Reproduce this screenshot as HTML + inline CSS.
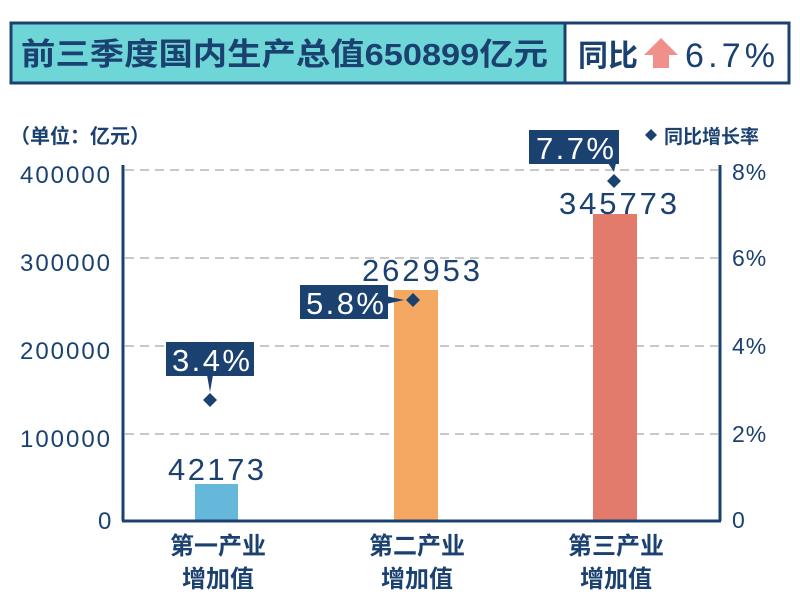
<!DOCTYPE html>
<html><head><meta charset="utf-8"><style>
body{margin:0;width:800px;height:600px;background:#fff;overflow:hidden;}
</style></head><body>
<svg width="800" height="600" xmlns="http://www.w3.org/2000/svg" style="font-family:'Liberation Sans','Noto Sans CJK SC',sans-serif">
<rect x="11" y="23" width="778" height="60" fill="#fff" stroke="#1b4170" stroke-width="3"/>
<rect x="12.5" y="24.5" width="552" height="57" fill="#6fd6d8"/>
<line x1="565" y1="23" x2="565" y2="83" stroke="#1b4170" stroke-width="3"/>
<text x="21" y="65" font-size="31" font-weight="bold" fill="#1b4170" textLength="527" lengthAdjust="spacingAndGlyphs">前三季度国内生产总值650899亿元</text>
<text x="578" y="66" font-size="30" font-weight="bold" fill="#1b4170">同比</text>
<polygon points="661,38 678,55 669,55 669,68 653,68 653,55 644,55" fill="#f0908a"/>
<text x="685" y="67" font-size="34" fill="#1b4170" textLength="90" lengthAdjust="spacing">6.7%</text>

<text x="10" y="143" font-size="20" font-weight="bold" fill="#1b4170">（单位：亿元）</text>
<polygon points="651,129 657,135 651,141 645,135" fill="#1b4170"/>
<text x="664" y="143" font-size="19" font-weight="bold" fill="#1b4170">同比增长率</text>

<g stroke="#c8c8c8" stroke-width="2" stroke-dasharray="9,6">
<line x1="125" y1="170" x2="718" y2="170"/>
<line x1="125" y1="258" x2="718" y2="258"/>
<line x1="125" y1="346" x2="718" y2="346"/>
<line x1="125" y1="434" x2="718" y2="434"/>
</g>
<g font-size="24" fill="#1b4170">
<text x="20" y="183" textLength="90" lengthAdjust="spacing">400000</text>
<text x="20" y="271" textLength="90" lengthAdjust="spacing">300000</text>
<text x="20" y="359" textLength="90" lengthAdjust="spacing">200000</text>
<text x="20" y="447" textLength="90" lengthAdjust="spacing">100000</text>
<text x="98" y="529">0</text>
</g>
<g font-size="23" fill="#1b4170">
<text x="732" y="180" letter-spacing="1">8%</text>
<text x="732" y="266" letter-spacing="1">6%</text>
<text x="732" y="354" letter-spacing="1">4%</text>
<text x="732" y="442" letter-spacing="1">2%</text>
<text x="732" y="528">0</text>
</g>

<rect x="195" y="484" width="43" height="37" fill="#66b8da"/>
<rect x="394" y="290" width="44" height="231" fill="#f4a862"/>
<rect x="593" y="214" width="44" height="307" fill="#e27b6c"/>

<line x1="123" y1="165" x2="123" y2="521" stroke="#1b4170" stroke-width="3"/>
<line x1="720" y1="165" x2="720" y2="521" stroke="#1b4170" stroke-width="3"/>
<line x1="122" y1="521" x2="721" y2="521" stroke="#1b4170" stroke-width="3"/>

<g font-size="31" fill="#1b4170">
<text x="168" y="480" textLength="96" lengthAdjust="spacing">42173</text>
<text x="362" y="281" textLength="118" lengthAdjust="spacing">262953</text>
<text x="559" y="214" textLength="118" lengthAdjust="spacing">345773</text>
</g>

<g fill="#1b4170">
<rect x="166" y="342" width="88" height="34"/>
<polygon points="207,375 213,375 210,392"/>
<polygon points="210,393 217,400 210,407 203,400"/>
<rect x="300" y="285" width="88" height="34"/>
<polygon points="386,296 386,304 404,300"/>
<polygon points="413,293 420,300 413,307 406,300"/>
<rect x="529" y="130" width="90" height="34"/>
<polygon points="608,163 616,163 614,172"/>
<polygon points="614,174 621,181 614,188 607,181"/>
</g>
<g font-size="31" fill="#fff">
<text x="172" y="371" textLength="78" lengthAdjust="spacing">3.4%</text>
<text x="306" y="314" textLength="78" lengthAdjust="spacing">5.8%</text>
<text x="536" y="159" textLength="78" lengthAdjust="spacing">7.7%</text>
</g>

<g font-size="24" font-weight="bold" fill="#1b4170" text-anchor="middle">
<text x="218" y="554">第一产业</text>
<text x="218" y="587">增加值</text>
<text x="417" y="554">第二产业</text>
<text x="417" y="587">增加值</text>
<text x="616" y="554">第三产业</text>
<text x="616" y="587">增加值</text>
</g>
</svg>
</body></html>
